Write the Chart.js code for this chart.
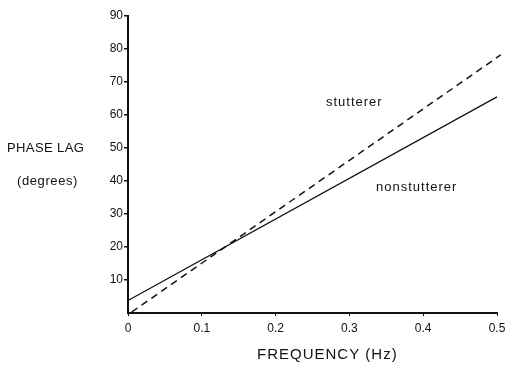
<!DOCTYPE html>
<html>
<head>
<meta charset="utf-8">
<script src="https://cdn.jsdelivr.net/npm/chart.js@4"></script>
<style>
  html, body { margin: 0; padding: 0; background: #fff; }
  #wrap { width: 508px; height: 369px; }
</style>
</head>
<body>
<div id="wrap"><canvas id="chart" width="508" height="369"></canvas></div>
<script>
// frequency (Hz) at the ends of each line
const freqNon = [0, 0.5];
const phaseNon = [3.8, 65.5];
const freqStut = [0.005, 0.505];
const phaseStut = [0.3, 78.2];

const xTicks = [0, 0.1, 0.2, 0.3, 0.4, 0.5];
const yTicks = [10, 20, 30, 40, 50, 60, 70, 80, 90];

const FONT = 'Liberation Sans, Arial, sans-serif';
const INK = '#111';

const pts = (xs, ys) => xs.map((x, i) => ({ x: x, y: ys[i] }));

function label(ctx, txt, x, y, size, spacing) {
  ctx.font = size + 'px ' + FONT;
  ctx.letterSpacing = spacing + 'px';
  ctx.fillText(txt, x, y);
}

// free text: axis titles and the curve labels
const textPlugin = {
  id: 'texts',
  afterDraw(chart) {
    const ctx = chart.ctx;
    const ys = chart.scales.y;
    ctx.save();
    ctx.fillStyle = INK;
    ctx.textBaseline = 'middle';
    ctx.textAlign = 'left';
    label(ctx, 'PHASE LAG', 7, ys.getPixelForValue(50), 13, 0.4);
    label(ctx, '(degrees)', 17, ys.getPixelForValue(40), 13, 0.6);
    label(ctx, 'stutterer', 326, ys.getPixelForValue(63.8), 13, 1);
    label(ctx, 'nonstutterer', 376, ys.getPixelForValue(38), 13, 1);
    label(ctx, 'FREQUENCY (Hz)', 257, 355, 15, 1);
    ctx.restore();
  }
};

new Chart(document.getElementById('chart'), {
  type: 'scatter',
  data: {
    datasets: [
      {
        label: 'nonstutterer',
        data: pts(freqNon, phaseNon),
        showLine: true,
        borderColor: INK,
        borderWidth: 1.3,
        pointRadius: 0,
        clip: false
      },
      {
        label: 'stutterer',
        data: pts(freqStut, phaseStut),
        showLine: true,
        borderColor: INK,
        borderWidth: 1.5,
        borderDash: [7, 5],
        pointRadius: 0,
        clip: false
      }
    ]
  },
  options: {
    responsive: false,
    animation: false,
    layout: { padding: { left: 0, right: 11, top: 16, bottom: 0 } },
    plugins: { legend: { display: false }, tooltip: { enabled: false } },
    scales: {
      x: {
        type: 'linear',
        min: 0,
        max: 0.5,
        afterFit: s => { s.height = 56; s.paddingLeft = 0; s.paddingRight = 0; },
        afterBuildTicks: s => { s.ticks = xTicks.map(v => ({ value: v })); },
        border: { display: true, color: INK, width: 2 },
        grid: { drawOnChartArea: false, drawTicks: true, tickLength: 3, color: INK, lineWidth: 1 },
        ticks: {
          color: INK,
          font: { family: FONT, size: 12 },
          padding: 5,
          callback: v => String(v)
        }
      },
      y: {
        type: 'linear',
        min: 0,
        max: 90,
        afterFit: s => { s.width = 128; s.paddingTop = 0; s.paddingBottom = 0; },
        afterBuildTicks: s => { s.ticks = yTicks.map(v => ({ value: v })); },
        border: { display: true, color: INK, width: 2 },
        grid: { drawOnChartArea: false, drawTicks: true, tickLength: 4, color: INK, lineWidth: 1.5 },
        ticks: {
          color: INK,
          font: { family: FONT, size: 12 },
          padding: 1,
          callback: v => String(v)
        }
      }
    }
  },
  plugins: [textPlugin]
});
</script>
</body>
</html>
